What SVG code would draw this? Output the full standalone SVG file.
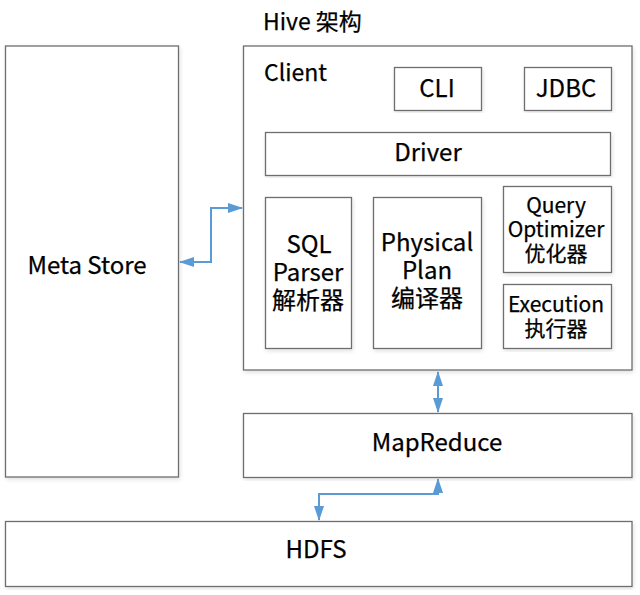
<svg xmlns="http://www.w3.org/2000/svg" width="640" height="595" viewBox="0 0 640 595">
<defs>
<marker id="ah" viewBox="0 0 15 10" refX="14" refY="5" markerWidth="15" markerHeight="10" markerUnits="userSpaceOnUse" orient="auto-start-reverse">
<path d="M0,0 L15,5 L0,10 Z" fill="#5b9bd5"/>
</marker>
<filter id="sh" x="-5%" y="-5%" width="110%" height="110%">
<feGaussianBlur in="SourceAlpha" stdDeviation="2"/>
<feOffset dx="1" dy="2"/>
<feComponentTransfer><feFuncA type="linear" slope="0.12"/></feComponentTransfer>
<feMerge><feMergeNode/><feMergeNode in="SourceGraphic"/></feMerge>
</filter>
</defs>
<style>
.box{fill:#fff;stroke:#6e6e6e;stroke-width:1.3;filter:url(#sh)}
text{font-family:"Noto Sans CJK SC","Noto Sans",sans-serif;fill:#000;stroke:#000;stroke-width:0.25;text-anchor:middle}
.t24{font-size:24px}
.t21{font-size:21px}
.conn{fill:none;stroke:#5b9bd5;stroke-width:2;marker-start:url(#ah);marker-end:url(#ah)}
</style>
<rect width="640" height="595" fill="#fff"/>
<text x="263" y="30" style="text-anchor:start;font-size:23px">Hive 架构</text>
<g id="metastore">
<rect class="box" x="5.5" y="46" width="173" height="431"/>
<text class="t24" x="87" y="274">Meta Store</text>
</g>
<g id="client">
<rect class="box" x="243.5" y="46" width="388.5" height="324"/>
<text x="264" y="81" style="text-anchor:start;font-size:23px">Client</text>
</g>
<g id="cli">
<rect class="box" x="394.5" y="67.5" width="87" height="43"/>
<text class="t24" x="437" y="97">CLI</text>
</g>
<g id="jdbc">
<rect class="box" x="524.5" y="67.5" width="87" height="43"/>
<text class="t24" x="566" y="97">JDBC</text>
</g>
<g id="driver">
<rect class="box" x="265.5" y="132.5" width="345" height="43"/>
<text class="t24" x="428" y="161">Driver</text>
</g>
<g id="sqlparser">
<rect class="box" x="265.5" y="197.5" width="86" height="151"/>
<text class="t24"><tspan x="309" y="253">SQL</tspan><tspan x="308" y="281">Parser</tspan><tspan x="308" y="309">解析器</tspan></text>
</g>
<g id="physicalplan">
<rect class="box" x="373.5" y="197.5" width="108" height="151"/>
<text class="t24"><tspan x="427" y="251">Physical</tspan><tspan x="427" y="279">Plan</tspan><tspan x="427" y="307">编译器</tspan></text>
</g>
<g id="optimizer">
<rect class="box" x="503.5" y="186.5" width="108" height="86"/>
<text class="t21"><tspan x="556" y="213">Query</tspan><tspan x="556" y="237">Optimizer</tspan><tspan x="556" y="261">优化器</tspan></text>
</g>
<g id="execution">
<rect class="box" x="503.5" y="284.5" width="108" height="64"/>
<text class="t21"><tspan x="556" y="312">Execution</tspan><tspan x="556" y="336">执行器</tspan></text>
</g>
<g id="mapreduce">
<rect class="box" x="243.5" y="413.5" width="388.5" height="64"/>
<text class="t24" x="437" y="451">MapReduce</text>
</g>
<g id="hdfs">
<rect class="box" x="5.5" y="521.5" width="626.5" height="65"/>
<text class="t24" x="316" y="558">HDFS</text>
</g>
<g id="connectors">
<polyline class="conn" points="180,262 211,262 211,208 242,208"/>
<polyline class="conn" points="438,372 438,412"/>
<polyline class="conn" points="438,479 438,494 319,494 319,520"/>
</g>
</svg>
